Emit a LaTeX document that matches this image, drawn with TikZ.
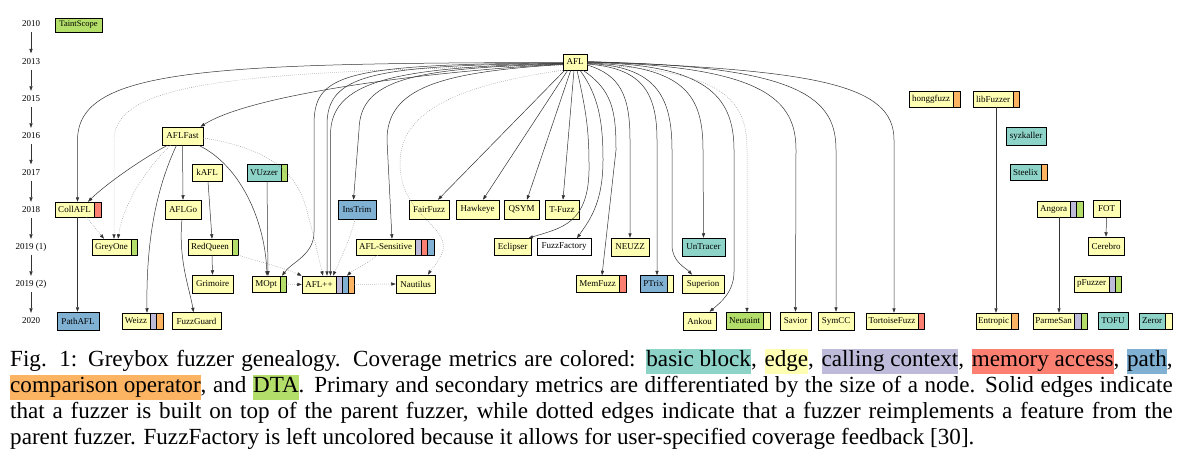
\documentclass[tikz,border=0pt]{standalone}
\usepackage{fontspec}
\setmainfont{Liberation Serif}
\usetikzlibrary{arrows.meta}
\definecolor{cY}{HTML}{FFFFB3}
\definecolor{cT}{HTML}{8DD3C7}
\definecolor{cL}{HTML}{BEBADA}
\definecolor{cR}{HTML}{FB8072}
\definecolor{cB}{HTML}{80B1D3}
\definecolor{cO}{HTML}{FDB462}
\definecolor{cG}{HTML}{B3DE69}
\tikzset{
  fz/.style={rectangle, draw=black, line width=0.5pt, inner sep=0pt, font=\fontsize{9}{10}\selectfont},
  yr/.style={inner sep=0pt, minimum height=16pt, font=\fontsize{9}{10}\selectfont},
  sedge/.style={line width=0.5pt, draw=black!80, -{Triangle[length=4.5pt,width=3.2pt]}},
  dedge/.style={line width=0.5pt, draw=black!45, dash pattern=on 0.6pt off 1.4pt, -{Triangle[length=4.5pt,width=3.2pt,color=black!80]}},
  captxt/.style={inner sep=0pt, anchor=base west, font=\fontsize{23.1}{26}\selectfont}
}
\newcommand\fz[7]{\node[fz, fill=#6, minimum width={(#3-#2)*1pt}, minimum height=#5pt] (#1) at ({(#2+#3)/2},#4) {#7};}
\newcommand\sg[6]{\node[fz, fill=#6, minimum width={(#3-#2)*1pt}, minimum height=#5pt] (#1) at ({(#2+#3)/2},#4) {};}
\newcommand\capbox[2]{{\setlength{\fboxsep}{0pt}\colorbox{#1}{\rule[-7.5pt]{0pt}{25.5pt}#2}}}
\begin{document}
\begin{tikzpicture}[x=1pt,y=-1pt]
\fill[white] (0,0) rectangle (1183,460);
\useasboundingbox (0,0) rectangle (1183,460);
% years
\node[yr] (y10) at (31,24) {2010};
\node[yr] (y13) at (31,61.5) {2013};
\node[yr] (y15) at (31,99) {2015};
\node[yr] (y16) at (31,136) {2016};
\node[yr] (y17) at (31,172.5) {2017};
\node[yr] (y18) at (31,210) {2018};
\node[yr] (y19a) at (31,247) {2019 (1)};
\node[yr] (y19b) at (31,284) {2019 (2)};
\node[yr] (y20) at (31,321) {2020};
\foreach \a/\b in {y10/y13,y13/y15,y15/y16,y16/y17,y17/y18,y18/y19a,y19a/y19b,y19b/y20}
  \draw[sedge] (\a.south) -- (\b.north);
% nodes
\node[fz, fill=cG, minimum width=47pt, minimum height=14pt, font=\fontsize{8.5}{9}\selectfont] (TaintScope) at (78.5,25) {TaintScope};
\fz{AFL}{563}{587}{62}{16}{cY}{AFL}
\fz{honggfuzz}{909}{953}{99}{16}{cY}{honggfuzz}\sg{honggfuzz-s}{953}{960}{99}{16}{cO}
\fz{libFuzzer}{973}{1013}{99}{16}{cY}{libFuzzer}\sg{libFuzzer-s}{1013}{1019}{99}{16}{cO}
\fz{AFLFast}{162}{203}{136}{18}{cY}{AFLFast}
\fz{syzkaller}{1006}{1046}{136}{18}{cT}{syzkaller}
\fz{kAFL}{192}{222}{172.5}{17}{cY}{kAFL}
\fz{VUzzer}{247}{281}{172.5}{17}{cT}{VUzzer}\sg{VUzzer-s}{281}{287}{172.5}{17}{cG}
\fz{Steelix}{1010}{1041}{172}{16}{cT}{Steelix}\sg{Steelix-s}{1041}{1047}{172}{16}{cO}
\fz{CollAFL}{55}{94}{209.5}{15}{cY}{CollAFL}\sg{CollAFL-s}{94}{101}{209.5}{15}{cR}
\fz{AFLGo}{165}{201}{209.5}{19}{cY}{AFLGo}
\fz{InsTrim}{338}{376}{209.5}{19}{cB}{InsTrim}
\fz{FairFuzz}{409}{449}{209.5}{19}{cY}{FairFuzz}
\fz{Hawkeye}{456}{499}{209.5}{19}{cY}{Hawkeye}
\fz{QSYM}{504}{539}{209.5}{19}{cY}{QSYM}
\fz{TFuzz}{545}{579}{209.5}{19}{cY}{T-Fuzz}
\fz{Angora}{1037}{1070}{209}{16}{cY}{Angora}\sg{Angora-s1}{1070}{1076}{209}{16}{cL}\sg{Angora-s2}{1076}{1083}{209}{16}{cG}
\fz{FOT}{1093}{1120}{209}{17}{cY}{FOT}
\fz{GreyOne}{92}{131}{247}{16}{cY}{GreyOne}\sg{GreyOne-s}{131}{137}{247}{16}{cG}
\fz{RedQueen}{188}{232}{247}{16}{cY}{RedQueen}\sg{RedQueen-s}{232}{238}{247}{16}{cG}
\fz{AFLSens}{356}{415}{247}{16}{cY}{AFL-Sensitive}\sg{AFLSens-s1}{415}{421}{247}{16}{cL}\sg{AFLSens-s2}{421}{427}{247}{16}{cR}\sg{AFLSens-s3}{427}{434}{247}{16}{cB}
\fz{Eclipser}{494}{531}{247}{17}{cY}{Eclipser}
\fz{FuzzFactory}{537}{591}{247}{17}{white}{FuzzFactory}
\fz{NEUZZ}{611}{649}{247}{18}{cY}{NEUZZ}
\fz{UnTracer}{682}{725}{247}{18}{cT}{UnTracer}
\fz{Cerebro}{1088}{1124}{246}{18}{cY}{Cerebro}
\fz{Grimoire}{192}{233}{284}{18}{cY}{Grimoire}
\fz{MOpt}{252}{280}{284}{16}{cY}{MOpt}\sg{MOpt-s}{280}{286}{284}{16}{cG}
\fz{AFLpp}{302}{336}{284.5}{17}{cY}{AFL++}\sg{AFLpp-s1}{336}{342}{284.5}{17}{cL}\sg{AFLpp-s2}{342}{348}{284.5}{17}{cB}\sg{AFLpp-s3}{348}{354}{284.5}{17}{cO}
\fz{Nautilus}{396}{435}{284}{18}{cY}{Nautilus}
\fz{MemFuzz}{576}{619}{284}{17}{cY}{MemFuzz}\sg{MemFuzz-s}{619}{626}{284}{17}{cR}
\fz{PTrix}{640}{667}{284}{17}{cB}{PTrix}\sg{PTrix-s}{667}{673}{284}{17}{cY}
\fz{Superion}{682}{724}{284}{18}{cY}{Superion}
\fz{pFuzzer}{1074}{1109}{284}{16}{cY}{pFuzzer}\sg{pFuzzer-s1}{1109}{1115}{284}{16}{cL}\sg{pFuzzer-s2}{1115}{1121}{284}{16}{cG}
\fz{PathAFL}{57}{99}{321}{18}{cB}{PathAFL}
\fz{Weizz}{122}{150}{321}{16}{cY}{Weizz}\sg{Weizz-s1}{150}{156}{321}{16}{cL}\sg{Weizz-s2}{156}{163}{321}{16}{cO}
\fz{FuzzGuard}{172}{221}{321}{17}{cY}{FuzzGuard}
\fz{Ankou}{683}{716}{321}{18}{cY}{Ankou}
\fz{Neutaint}{726}{763}{321}{17}{cG}{Neutaint}\sg{Neutaint-s}{763}{770}{321}{17}{cY}
\fz{Savior}{780}{811}{321}{18}{cY}{Savior}
\fz{SymCC}{818}{854}{321}{18}{cY}{SymCC}
\fz{Tortoise}{866}{918}{321}{16}{cY}{TortoiseFuzz}\sg{Tortoise-s}{918}{924}{321}{16}{cR}
\fz{Entropic}{976}{1011}{321}{16}{cY}{Entropic}\sg{Entropic-s}{1011}{1018}{321}{16}{cO}
\fz{ParmeSan}{1033}{1074}{321}{16}{cY}{ParmeSan}\sg{ParmeSan-s1}{1074}{1081}{321}{16}{cL}\sg{ParmeSan-s2}{1081}{1087}{321}{16}{cG}
\fz{TOFU}{1098}{1128}{321}{17}{cT}{TOFU}
\fz{Zeror}{1139}{1165}{321}{16}{cT}{Zeror}\sg{Zeror-s}{1165}{1172}{321}{16}{cY}
% AFL, to the left
\draw[sedge] ([yshift=-0.5pt]AFL.west) .. controls (200,63) and (78,70) .. (77.5,140) -- ([xshift=3pt]CollAFL.north);
\draw[dedge] ([yshift=-3pt]AFL.west) .. controls (260,72) and (114,78) .. (114,140) -- ([xshift=2.5pt]GreyOne.north);
\draw[sedge] ([yshift=-2pt]AFL.west) .. controls (420,72) and (250,95) .. ([xshift=18pt]AFLFast.north);
\draw[sedge] ([yshift=-1pt]AFL.west) .. controls (340,64) and (314,75) .. (314,125) -- (314,232) .. controls (314,255) and (292,262) .. ([xshift=16pt]MOpt.north);
\draw[sedge] ([yshift=-1.5pt]AFL.west) .. controls (370,65) and (327,75) .. (327,125) -- ([xshift=8pt]AFLpp.north);
\draw[sedge] ([yshift=-1.5pt]AFL.west) .. controls (390,67) and (330.5,82) .. (330.5,135) -- ([xshift=11.5pt]AFLpp.north);
\draw[sedge] ([yshift=-2pt]AFL.west) .. controls (410,68) and (360,80) .. (359,130) -- ([xshift=-3.5pt]InsTrim.north);
\draw[sedge] ([yshift=-2.5pt]AFL.west) .. controls (440,72) and (387,88) .. (387,140) -- ([xshift=6.5pt]AFLSens.north);
\draw[dedge] (AFL.south west) .. controls (460,85) and (399,110) .. (400,165) .. controls (401,215) and (448,225) .. (443,250) .. controls (440,262) and (432,268) .. ([xshift=12.5pt]Nautilus.north);
% AFL, below and to the right
\draw[sedge] ([xshift=2pt]AFL.south west) -- ([xshift=9pt]FairFuzz.north);
\draw[sedge] ([xshift=5pt]AFL.south west) -- ([xshift=5.5pt]Hawkeye.north);
\draw[sedge] ([xshift=8pt]AFL.south west) -- ([xshift=5.5pt]QSYM.north);
\draw[sedge] ([xshift=-1pt]AFL.south) -- ([xshift=1pt]TFuzz.north);
\draw[sedge] ([xshift=2pt]AFL.south) .. controls (586,110) and (589,130) .. (589,165) .. controls (590,225) and (560,228) .. ([xshift=16pt]Eclipser.north);
\draw[sedge] ([xshift=5pt]AFL.south) .. controls (598,95) and (603,120) .. (603,160) .. controls (603,205) and (588,222) .. ([xshift=13pt]FuzzFactory.north);
\draw[sedge] ([xshift=8pt]AFL.south) .. controls (612,90) and (616,110) .. (616,150) -- ([xshift=4.5pt]MemFuzz.north);
\draw[sedge] ([yshift=-3pt]AFL.east) .. controls (620,75) and (630,95) .. (630,140) -- (NEUZZ.north);
\draw[sedge] ([yshift=-2pt]AFL.east) .. controls (640,68) and (657,90) .. (657,140) -- ([xshift=3.5pt]PTrix.north);
\draw[sedge] ([yshift=-1.5pt]AFL.east) .. controls (655,66) and (672,95) .. (672,150) -- (672,245) .. controls (672,262) and (686,268) .. ([xshift=-11pt]Superion.north);
\draw[sedge] ([yshift=-1pt]AFL.east) .. controls (685,66) and (703,95) .. (703,150) -- (UnTracer.north);
\draw[sedge] ([yshift=-0.5pt]AFL.east) .. controls (705,64) and (734,95) .. (734,150) -- (734,272) .. controls (734,292) and (720,303) .. ([xshift=10pt]Ankou.north);
\draw[dedge] ([yshift=-2.5pt]AFL.east) .. controls (725,70) and (747,100) .. (747,150) -- ([xshift=2.5pt]Neutaint.north);
\draw[sedge] (AFL.east) .. controls (765,66) and (796,100) .. (796,150) -- (Savior.north);
\draw[sedge] (AFL.east) .. controls (805,65) and (836,100) .. (836,150) -- (SymCC.north);
\draw[sedge] ([yshift=0.5pt]AFL.east) .. controls (820,70) and (894,85) .. (894,140) -- ([xshift=2pt]Tortoise.north);
% AFLFast
\draw[sedge] ([xshift=-15pt]AFLFast.south) .. controls (140,160) and (105,185) .. ([xshift=13.5pt]CollAFL.north);
\draw[dedge] ([xshift=-12pt]AFLFast.south) .. controls (150,165) and (124,200) .. ([xshift=6.5pt]GreyOne.north);
\draw[sedge] ([xshift=-6pt]AFLFast.south) .. controls (158,185) and (146,235) .. ([xshift=11pt]Weizz.north);
\draw[sedge] (AFLFast.south) -- (AFLGo.north);
\draw[sedge] ([xshift=16pt]AFLFast.south) .. controls (240,165) and (265,220) .. ([xshift=1pt]MOpt.north);
\draw[dedge] ([yshift=-2pt]AFLFast.east) .. controls (280,150) and (300,180) .. (308,215) .. controls (315,240) and (319,260) .. ([xshift=4pt]AFLpp.north);
% others
\draw[sedge] ([xshift=3pt]CollAFL.south) -- ([xshift=-0.5pt]PathAFL.north);
\draw[dedge] ([xshift=12pt]CollAFL.south) -- ([xshift=-7.5pt]GreyOne.north);
\draw[sedge] ([xshift=1pt]kAFL.south) -- ([xshift=2pt]RedQueen.north);
\draw[sedge] ([xshift=2pt]RedQueen.south) -- (Grimoire.north);
\draw[dedge] (RedQueen-s.south east) .. controls (260,262) and (285,268) .. (AFLpp.north west);
\draw[sedge] ([xshift=3pt]VUzzer.south) -- ([xshift=2pt]MOpt.north);
\draw[sedge] ([xshift=-1pt]AFLGo.south) .. controls (178,260) and (190,290) .. ([xshift=-3pt]FuzzGuard.north);
\draw[dedge] (MOpt-s.east) -- (AFLpp.west);
\draw[dedge] (AFLpp-s3.east) -- (Nautilus.west);
\draw[dedge] ([xshift=-2pt]InsTrim.south) .. controls (350,240) and (340,260) .. ([xshift=14pt]AFLpp.north);
\draw[dedge] ([xshift=-8pt]AFLSens.south) .. controls (365,265) and (353,270) .. ([xshift=28pt]AFLpp.north);
\draw[sedge] ([xshift=3pt]libFuzzer.south) -- ([xshift=2.5pt]Entropic.north);
\draw[sedge] ([xshift=5.5pt]Angora.south) -- ([xshift=5.5pt]ParmeSan.north);
\draw[sedge] (FOT.south) -- (Cerebro.north);
% caption
\node[captxt] (cap1) at (10,366.5) {\makebox[1162.5pt][s]{Fig. 1: Greybox fuzzer genealogy. Coverage metrics are colored: \capbox{cT}{basic block}, \capbox{cY}{edge}, \capbox{cL}{calling context}, \capbox{cR}{memory access}, \capbox{cB}{path},}};
\node[captxt] (cap2) at (10,392.5) {\makebox[1162.5pt][s]{\capbox{cO}{comparison operator}, and \capbox{cG}{DTA}. Primary and secondary metrics are differentiated by the size of a node. Solid edges indicate}};
\node[captxt] (cap3) at (10,418.5) {\makebox[1162.5pt][s]{that a fuzzer is built on top of the parent fuzzer, while dotted edges indicate that a fuzzer reimplements a feature from the}};
\node[captxt] (cap4) at (10,444.5) {parent fuzzer. FuzzFactory is left uncolored because it allows for user-specified coverage feedback [30].};
\end{tikzpicture}
\end{document}
